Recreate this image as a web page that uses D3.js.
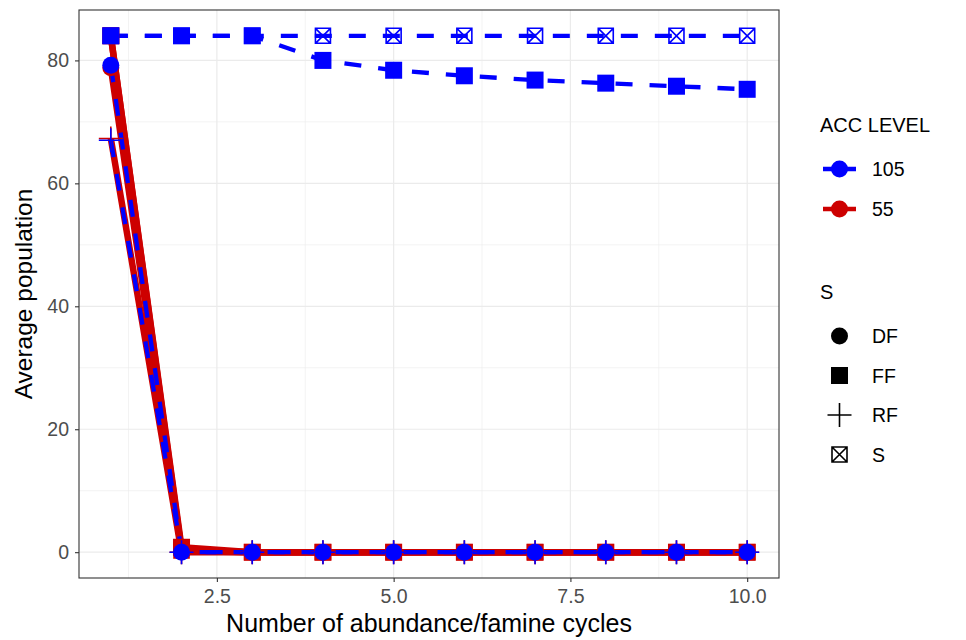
<!DOCTYPE html>
<html>
<head>
<meta charset="utf-8">
<script src="https://cdn.jsdelivr.net/npm/d3@7"></script>
<style>
body { margin: 0; background: #fff; }
text { font-family: "Liberation Sans", Arial, Helvetica, sans-serif; }
</style>
</head>
<body>
<div id="chart"></div>
<script>
// data
const cycles = [1, 2, 3, 4, 5, 6, 7, 8, 9, 10];
const accLevels = ["105", "55"];
const strategies = ["DF", "FF", "RF", "S"];

const df105 = [79.2, 0, 0, 0, 0, 0, 0, 0, 0, 0];
const ff105 = [84, 84, 84, 80, 78.4, 77.5, 76.8, 76.3, 75.8, 75.3];
const rf105 = [67, 0, 0, 0, 0, 0, 0, 0, 0, 0];
const s105  = [84, 84, 84, 84, 84, 84, 84, 84, 84, 84];

const df55 = [78.8, 0.2, 0, 0, 0, 0, 0, 0, 0, 0];
const ff55 = [84, 0.8, 0, 0, 0, 0, 0, 0, 0, 0];
const rf55 = [67.3, 0, 0, 0, 0, 0, 0, 0, 0, 0];
const s55  = [84, 0.3, 0, 0, 0, 0, 0, 0, 0, 0];

const xTicks = [2.5, 5, 7.5, 10];
const yTicks = [0, 20, 40, 60, 80];

const series = [
	{acc: "55", s: "DF", v: df55}, {acc: "55", s: "FF", v: ff55},
	{acc: "55", s: "RF", v: rf55}, {acc: "55", s: "S", v: s55},
	{acc: "105", s: "DF", v: df105}, {acc: "105", s: "FF", v: ff105},
	{acc: "105", s: "RF", v: rf105}, {acc: "105", s: "S", v: s105}
];

const color = d3.scaleOrdinal().domain(accLevels).range(["#0000FF", "#CD0000"]);
const lineW = {"105": 4.3, "55": 6.5};
const dash = {"105": "17,17", "55": null};

const width = 966, height = 640;
const pLeft = 79, pRight = 779, pTop = 10, pBottom = 578;

const svg = d3.select("#chart").append("svg")
	.attr("width", width)
	.attr("height", height);

const x = d3.scaleLinear().domain([0.55, 10.45]).range([pLeft, pRight]);
const y = d3.scaleLinear().domain([-4.2, 88.2]).range([pBottom, pTop]);

// grid
const grid = svg.append("g");
const xMinor = [1.25, 3.75, 6.25, 8.75];
const yMinor = [10, 30, 50, 70];
grid.selectAll(".ymin").data(yMinor).join("line")
	.attr("x1", pLeft).attr("x2", pRight)
	.attr("y1", d => y(d)).attr("y2", d => y(d))
	.attr("stroke", "#EBEBEB").attr("stroke-width", 0.6);
grid.selectAll(".xmin").data(xMinor).join("line")
	.attr("y1", pTop).attr("y2", pBottom)
	.attr("x1", d => x(d)).attr("x2", d => x(d))
	.attr("stroke", "#EBEBEB").attr("stroke-width", 0.6);
grid.selectAll(".ymaj").data(yTicks).join("line")
	.attr("x1", pLeft).attr("x2", pRight)
	.attr("y1", d => y(d)).attr("y2", d => y(d))
	.attr("stroke", "#EBEBEB").attr("stroke-width", 1.2);
grid.selectAll(".xmaj").data(xTicks).join("line")
	.attr("y1", pTop).attr("y2", pBottom)
	.attr("x1", d => x(d)).attr("x2", d => x(d))
	.attr("stroke", "#EBEBEB").attr("stroke-width", 1.2);

// lines
const line = d3.line().x((d, i) => x(cycles[i])).y(d => y(d));
svg.append("g").selectAll("path").data(series).join("path")
	.attr("d", d => line(d.v))
	.attr("fill", "none")
	.attr("stroke", d => color(d.acc))
	.attr("stroke-width", d => lineW[d.acc])
	.attr("stroke-dasharray", d => dash[d.acc]);

// point shapes
function drawShape(g, s, cx, cy, col) {
	if (s == "DF") {
		g.append("circle").attr("cx", cx).attr("cy", cy).attr("r", 8.5).attr("fill", col);
	} else if (s == "FF") {
		g.append("rect").attr("x", cx - 8.5).attr("y", cy - 8.5).attr("width", 17).attr("height", 17).attr("fill", col);
	} else if (s == "RF") {
		g.append("path").attr("d", `M${cx - 12},${cy}H${cx + 12}M${cx},${cy - 12}V${cy + 12}`)
			.attr("stroke", col).attr("stroke-width", 1.6).attr("fill", "none");
	} else {
		const h = 7.5;
		g.append("path")
			.attr("d", `M${cx - h},${cy - h}H${cx + h}V${cy + h}H${cx - h}ZM${cx - h},${cy - h}L${cx + h},${cy + h}M${cx + h},${cy - h}L${cx - h},${cy + h}`)
			.attr("stroke", col).attr("stroke-width", 1.6).attr("fill", "none");
	}
}

const pts = svg.append("g");
series.forEach(d => {
	d.v.forEach((v, i) => drawShape(pts, d.s, x(cycles[i]), y(v), color(d.acc)));
});

// panel border
svg.append("rect").attr("x", pLeft).attr("y", pTop)
	.attr("width", pRight - pLeft).attr("height", pBottom - pTop)
	.attr("fill", "none").attr("stroke", "#333333").attr("stroke-width", 1.1);

// axes
const xAxis = svg.append("g").attr("transform", `translate(0,${pBottom})`)
	.call(d3.axisBottom(x).tickValues(xTicks).tickFormat(d3.format(".1f")).tickSize(4).tickPadding(7));
const yAxis = svg.append("g").attr("transform", `translate(${pLeft},0)`)
	.call(d3.axisLeft(y).tickValues(yTicks).tickSize(4).tickPadding(6));
[xAxis, yAxis].forEach(a => {
	a.select(".domain").remove();
	a.selectAll(".tick line").attr("stroke", "#333333").attr("stroke-width", 1.1);
	a.selectAll(".tick text").attr("fill", "#4D4D4D").style("font-size", "19.5px")
		.style("font-family", "'Liberation Sans', Arial, sans-serif");
});

svg.append("text").attr("x", (pLeft + pRight) / 2).attr("y", 632)
	.attr("text-anchor", "middle").style("font-size", "25px").attr("fill", "#000")
	.text("Number of abundance/famine cycles");
svg.append("text").attr("transform", `translate(32,${(pTop + pBottom) / 2}) rotate(-90)`)
	.attr("text-anchor", "middle").style("font-size", "24.5px").attr("fill", "#000")
	.text("Average population");

// legends
const leg = svg.append("g");
leg.append("text").attr("x", 820).attr("y", 132).style("font-size", "20px").text("ACC LEVEL");
accLevels.forEach((a, i) => {
	const cy = 169 + i * 40;
	leg.append("line").attr("x1", 823).attr("x2", 856).attr("y1", cy).attr("y2", cy)
		.attr("stroke", color(a)).attr("stroke-width", 4.3);
	leg.append("circle").attr("cx", 839.5).attr("cy", cy).attr("r", 8.5).attr("fill", color(a));
	leg.append("text").attr("x", 872).attr("y", cy + 7).style("font-size", "19.5px").text(a);
});

leg.append("text").attr("x", 820).attr("y", 299).style("font-size", "20px").text("S");
strategies.forEach((s, i) => {
	const cy = 336 + i * 39.5;
	drawShape(leg, s, 839.5, cy, "#000");
	leg.append("text").attr("x", 872).attr("y", cy + 7).style("font-size", "19.5px").text(s);
});
</script>
</body>
</html>
